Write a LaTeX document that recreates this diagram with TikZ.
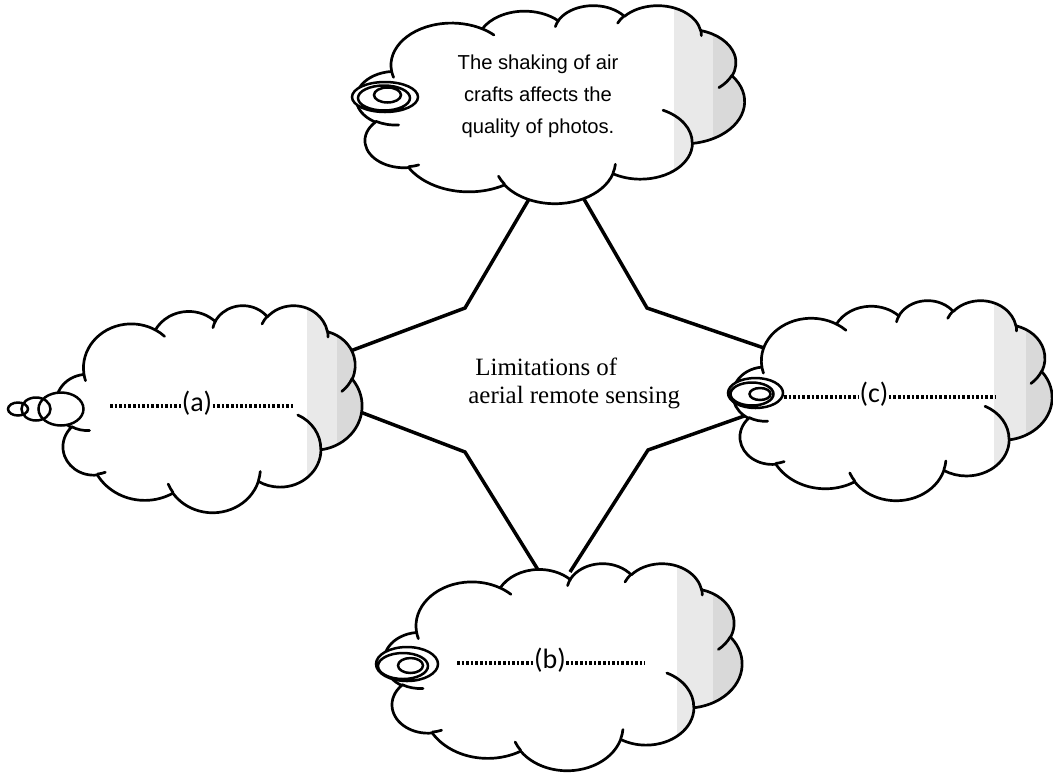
\documentclass[tikz,border=0pt]{standalone}
\usepackage{fontspec}
\setmainfont{Liberation Serif}
\newfontfamily\notefont{Liberation Sans}
\newfontfamily\tagfont{Carlito}

% One bump of the cloud outline: an elliptical arc given by its radii,
% its start angle and its sweep, both angles taken as seen from the centre.
\newcommand\cloudarc[5]{%
  \pgfmathsetmacro\cloudS{atan2((#2)*sin(#4),(#3)*cos(#4))}%
  \pgfmathsetmacro\cloudE{atan2((#2)*sin((#4)+(#5)),(#3)*cos((#4)+(#5)))}%
  \pgfmathsetmacro\cloudD{mod((\cloudE)-(\cloudS)+720,360)}%
  \expandafter\xdef\csname#1\endcsname{arc[start angle=\cloudS,
    delta angle=\cloudD, x radius=#2, y radius=#3]}%
}
% Cloud outline and its inner curls, in a 432 x 432 frame
\newcommand\cloudpath{(39.00,143.70) \clA \clB \clC \clD \clE \clF \clG \clH \clI \clJ \clK -- cycle}
\newcommand\cloudcurls{(46.93,261.77) \cuA (69.28,348.99) \cuB (164.78,390.90) \cuC
  (288.27,347.51) \cuD (341.29,229.54) \cuE (417.98,153.54) \cuF (383.24,54.26) \cuG
  (290.78,39.52) \cuH (221.41,47.20) \cuI (140.00,51.92) \cuJ (41.27,157.89) \cuK}
% A shaded cloud placed at (#1,#2) and scaled by #3 x #4
\newcommand\drawcloud[4]{%
  \begin{scope}[shift={(#1,#2)}, xscale=#3, yscale=#4]
    \fill[white] \cloudpath;
    \begin{scope}
      \clip \cloudpath;
      \fill[lightshade] (354,-20) rectangle (460,460);
      \fill[darkshade] (397,-20) rectangle (460,460);
    \end{scope}
    \draw[outline] \cloudpath;
    \draw[outline] \cloudcurls;
  \end{scope}}

\begin{document}
\begin{tikzpicture}[x=0.5pt, y=-0.5pt,
  outline/.style={line width=1.35pt, line join=round, line cap=round},
  link/.style={line width=1.75pt, line join=miter},
  leader/.style={line width=1.8pt, dash pattern=on 1.3pt off 1.0pt},
  tail/.style={line width=1.25pt},
  lightshade/.style={fill=gray!17},
  darkshade/.style={fill=gray!30},
  note/.style={font=\notefont\fontsize{10.1}{16}\selectfont, align=center, inner sep=0pt},
  title/.style={font=\fontsize{12.45}{14}\selectfont, anchor=base west, inner sep=0pt},
  tag/.style={font=\tagfont\fontsize{14}{16}\selectfont, inner sep=0pt},
]
% outline bumps
\cloudarc{clA}{67.53}{91.90}{-190.49}{123.78}
\cloudarc{clB}{53.33}{72.67}{-144.10}{89.95}
\cloudarc{clC}{43.65}{59.45}{-145.81}{99.72}
\cloudarc{clD}{48.57}{65.95}{-130.99}{117.24}
\cloudarc{clE}{53.33}{72.73}{-78.71}{109.03}
\cloudarc{clF}{67.75}{92.20}{-46.27}{130.27}
\cloudarc{clG}{57.85}{78.67}{0.63}{114.03}
\cloudarc{clH}{67.52}{92.15}{22.45}{115.17}
\cloudarc{clI}{77.20}{105.43}{66.24}{75.71}
\cloudarc{clJ}{43.60}{59.18}{-274.94}{146.74}
\cloudarc{clK}{43.45}{59.45}{-246.83}{152.52}
% inner curls
\cloudarc{cuA}{43.45}{59.45}{86.74}{26.43}
\cloudarc{cuB}{43.60}{59.18}{73.61}{11.45}
\cloudarc{cuC}{67.52}{92.15}{137.62}{14.08}
\cloudarc{cuD}{67.52}{92.15}{6.45}{16.00}
\cloudarc{cuE}{57.85}{78.67}{-70.29}{70.92}
\cloudarc{cuF}{53.33}{72.73}{30.32}{27.75}
\cloudarc{cuG}{48.57}{65.95}{-13.74}{14.86}
\cloudarc{cuH}{48.57}{65.95}{-149.18}{18.20}
\cloudarc{cuI}{43.65}{59.45}{-163.49}{17.69}
\cloudarc{cuJ}{67.53}{91.90}{-66.71}{12.32}
\cloudarc{cuK}{67.53}{91.90}{157.65}{11.86}

\fill[white] (0,0) rectangle (1053,772);
\useasboundingbox (0,0) rectangle (1053,772);

% connector ends and bends
\coordinate (tl) at (532,194);  \coordinate (tlk) at (465,308); \coordinate (at) at (345,353);
\coordinate (tr) at (581,194);  \coordinate (trk) at (647,308); \coordinate (ct) at (767,349);
\coordinate (ab) at (355,410);  \coordinate (abk) at (465,452); \coordinate (bl) at (540,573);
\coordinate (cb) at (747,415);  \coordinate (cbk) at (648,450); \coordinate (br) at (570,572);

\draw[link] (tl) -- (tlk) -- (at);
\draw[link] (tr) -- (trk) -- (ct);
\draw[link] (ab) -- (abk) -- (bl);
\draw[link] (cb) -- (cbk) -- (br);

% clouds
\drawcloud{356.5}{5}{0.8981}{0.4583}
\drawcloud{56.3}{305}{0.7076}{0.4792}
\drawcloud{733}{300}{0.7384}{0.4630}
\drawcloud{384.2}{563}{0.8282}{0.4792}

% tails of the clouds
\fill[white] (385,97) ellipse[x radius=33, y radius=15] (384,98) ellipse[x radius=26, y radius=12.5] (387.5,95) ellipse[x radius=13.5, y radius=7.5];
\draw[tail] (385,97) ellipse[x radius=33, y radius=15] (384,98) ellipse[x radius=26, y radius=12.5] (387.5,95) ellipse[x radius=13.5, y radius=7.5];
\fill[white] (61,409) ellipse[x radius=22.5, y radius=16.5] (36,409) ellipse[x radius=14.5, y radius=11.5] (18,409) ellipse[x radius=10, y radius=6.5];
\draw[tail] (61,409) ellipse[x radius=22.5, y radius=16.5] (36,409) ellipse[x radius=14.5, y radius=11.5] (18,409) ellipse[x radius=10, y radius=6.5];
\fill[white] (755.5,393) ellipse[x radius=27.5, y radius=15] (752,394) ellipse[x radius=21.5, y radius=11.5] (760,394) ellipse[x radius=10.5, y radius=6];
\draw[tail] (755.5,393) ellipse[x radius=27.5, y radius=15] (752,394) ellipse[x radius=21.5, y radius=11.5] (760,394) ellipse[x radius=10.5, y radius=6];
\fill[white] (407,664) ellipse[x radius=31, y radius=17] (403,666) ellipse[x radius=25, y radius=13] (410.5,665.5) ellipse[x radius=12.5, y radius=7.5];
\draw[tail] (407,664) ellipse[x radius=31, y radius=17] (403,666) ellipse[x radius=25, y radius=13] (410.5,665.5) ellipse[x radius=12.5, y radius=7.5];

% texts
\node[note] (shake) at (538,96.5) {The shaking of air\\crafts affects the\\quality of photos.};
\node[title] (lim1) at (475,375) {Limitations of};
\node[title] (lim2) at (468,403) {aerial remote sensing};

\node[tag] (la) at (197,403) {(a)};
\node[tag] (lb) at (550,660.5) {(b)};
\node[tag] (lc) at (874,394) {(c)};
\coordinate (aL) at (110,406); \coordinate (aR) at (293,406);
\coordinate (bL) at (457,663); \coordinate (bR) at (645,663);
\coordinate (cL) at (784,397); \coordinate (cR) at (995,397);
\draw[leader] (aL) -- (aL -| la.west);
\draw[leader] (la.east |- aR) -- (aR);
\draw[leader] (bL) -- (bL -| lb.west);
\draw[leader] (lb.east |- bR) -- (bR);
\draw[leader] (cL) -- (cL -| lc.west);
\draw[leader] (lc.east |- cR) -- (cR);
\end{tikzpicture}
\end{document}
